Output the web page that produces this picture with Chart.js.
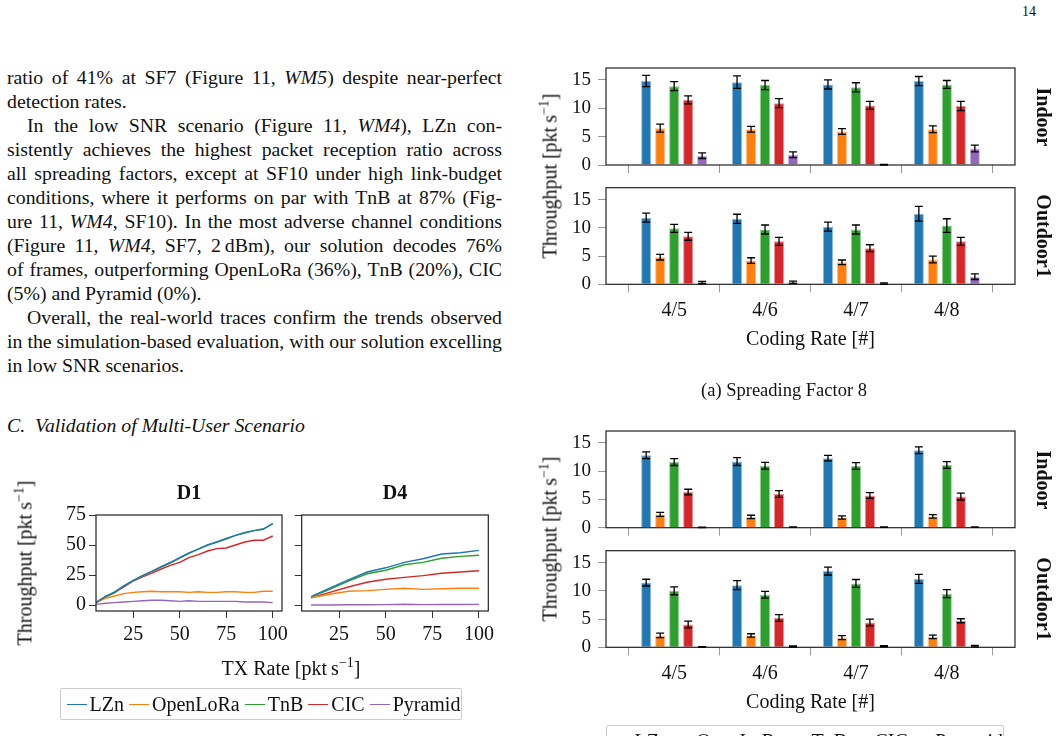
<!DOCTYPE html>
<html>
<head>
<meta charset="utf-8">
<script src="https://cdn.jsdelivr.net/npm/chart.js@4.4.1/dist/chart.umd.min.js"></script>
<style>
  html, body { margin: 0; padding: 0; background: #fff; }
  body { width: 1058px; height: 736px; overflow: hidden; position: relative;
         font-family: "Liberation Serif", "Times New Roman", serif; color: #111; }
  canvas { position: absolute; }
  .abs { position: absolute; white-space: nowrap; }
  .ctr { transform: translate(-50%, -50%); }
  .body { position: absolute; left: 7px; width: 495px; font-size: 19.8px; line-height: 24px; }
  .body div { white-space: nowrap; }
  .ind { padding-left: 20px; }
  .rot { position: absolute; white-space: nowrap; font-size: 20px; transform: translate(-50%, -50%) rotate(-90deg); }
  .rotr { position: absolute; white-space: nowrap; font-size: 20px; font-weight: bold; transform: translate(-50%, -50%) rotate(90deg); }
  sup { font-size: 70%; line-height: 0; }
  .legend { position: absolute; border: 1px solid #ccc; border-radius: 2px; display: flex; align-items: center;
            justify-content: center; font-size: 20px; box-sizing: border-box; }
  .legend span.ln { display: inline-block; width: 20px; height: 0; border-top: 1.5px solid; margin: 0 3px 0 5px; vertical-align: middle; }
</style>
</head>
<body>

<div class="abs" style="left:1022px;top:4px;font-size:14px;">14</div>

<div class="body" style="top:65px;">
  <div class="j">ratio of 41% at SF7 (Figure 11, <i>WM5</i>) despite near-perfect</div>
  <div>detection rates.</div>
  <div class="j ind">In the low SNR scenario (Figure 11, <i>WM4</i>), LZn con-</div>
  <div class="j">sistently achieves the highest packet reception ratio across</div>
  <div class="j">all spreading factors, except at SF10 under high link-budget</div>
  <div class="j">conditions, where it performs on par with TnB at 87% (Fig-</div>
  <div class="j">ure 11, <i>WM4</i>, SF10). In the most adverse channel conditions</div>
  <div class="j">(Figure 11, <i>WM4</i>, SF7, 2&#8201;dBm), our solution decodes 76%</div>
  <div class="j">of frames, outperforming OpenLoRa (36%), TnB (20%), CIC</div>
  <div>(5%) and Pyramid (0%).</div>
  <div class="j ind">Overall, the real-world traces confirm the trends observed</div>
  <div class="j">in the simulation-based evaluation, with our solution excelling</div>
  <div>in low SNR scenarios.</div>
</div>
<div class="body" style="top:413px;"><div><i>C.&nbsp; Validation of Multi-User Scenario</i></div></div>

<!-- multi-user line charts -->
<canvas id="d1" width="290" height="200" style="left:0px;top:470px;"></canvas>
<canvas id="d4" width="210" height="200" style="left:290px;top:470px;"></canvas>
<div class="abs ctr" style="left:189px;top:492px;font-size:20px;font-weight:bold;">D1</div>
<div class="abs ctr" style="left:395px;top:492px;font-size:20px;font-weight:bold;">D4</div>
<div class="rot" style="left:25px;top:563px;">Throughput [pkt&#8201;s<sup>&minus;1</sup>]</div>
<div class="abs ctr" style="left:291px;top:668px;font-size:20px;">TX Rate [pkt&#8201;s<sup>&minus;1</sup>]</div>
<div class="legend" id="legL" style="left:60px;top:688px;width:402px;height:32px;"></div>

<!-- figure (a) SF8 -->
<canvas id="aIn" width="528" height="120" style="left:530px;top:60px;"></canvas>
<canvas id="aOut" width="528" height="200" style="left:530px;top:180px;"></canvas>
<div class="rot" style="left:550px;top:176px;">Throughput [pkt&#8201;s<sup>&minus;1</sup>]</div>
<div class="rotr" style="left:1043px;top:117px;">Indoor</div>
<div class="rotr" style="left:1043px;top:236px;">Outdoor1</div>
<div class="abs ctr" style="left:784px;top:390px;font-size:18.5px;">(a) Spreading Factor 8</div>

<!-- second figure -->
<canvas id="bIn" width="528" height="120" style="left:530px;top:423px;"></canvas>
<canvas id="bOut" width="528" height="200" style="left:530px;top:543px;"></canvas>
<div class="rot" style="left:550px;top:539px;">Throughput [pkt&#8201;s<sup>&minus;1</sup>]</div>
<div class="rotr" style="left:1043px;top:480px;">Indoor</div>
<div class="rotr" style="left:1043px;top:599px;">Outdoor1</div>
<div class="legend" id="legR" style="left:606px;top:725px;width:398px;height:32px;"></div>

<script>
// ---------- data ----------
const methods = ['LZn', 'OpenLoRa', 'TnB', 'CIC', 'Pyramid'];
const codingRates = ['4/5', '4/6', '4/7', '4/8'];
const barTicks = [0, 5, 10, 15];

// SF8, indoor / outdoor1: one row per method (LZn, OpenLoRa, TnB, CIC, Pyramid)
const aIndoorMean = [
  [14.8, 14.6, 14.2, 14.8],
  [6.5, 6.3, 5.9, 6.3],
  [13.9, 14.1, 13.7, 14.2],
  [11.5, 10.9, 10.5, 10.4],
  [1.65, 1.8, 0.05, 2.9]
];
const aIndoorErr = [
  [1.0, 1.1, 0.8, 0.8],
  [0.7, 0.5, 0.5, 0.6],
  [0.8, 0.8, 0.8, 0.7],
  [0.7, 0.8, 0.7, 0.8],
  [0.5, 0.5, 0.05, 0.6]
];
const aOutdoorMean = [
  [11.8, 11.6, 10.2, 12.5],
  [4.8, 4.2, 3.9, 4.4],
  [9.9, 9.7, 9.7, 10.4],
  [8.5, 7.6, 6.4, 7.6],
  [0.3, 0.35, 0.1, 1.35]
];
const aOutdoorErr = [
  [0.8, 0.8, 0.8, 1.3],
  [0.5, 0.5, 0.4, 0.6],
  [0.7, 0.8, 0.8, 1.2],
  [0.7, 0.7, 0.6, 0.7],
  [0.2, 0.2, 0.15, 0.5]
];
const bIndoorMean = [
  [12.8, 11.7, 12.3, 13.7],
  [2.35, 1.9, 1.8, 2.0],
  [11.6, 10.95, 10.9, 11.1],
  [6.3, 5.95, 5.7, 5.5],
  [0.05, 0.1, 0.1, 0.1]
];
const bIndoorErr = [
  [0.6, 0.7, 0.5, 0.6],
  [0.35, 0.3, 0.3, 0.3],
  [0.6, 0.6, 0.6, 0.6],
  [0.5, 0.6, 0.5, 0.6],
  [0.05, 0.05, 0.05, 0.05]
];
const bOutdoorMean = [
  [11.45, 11.0, 13.5, 12.1],
  [2.1, 2.1, 1.7, 1.85],
  [10.0, 9.3, 11.3, 9.5],
  [4.05, 5.2, 4.4, 4.7],
  [0.05, 0.15, 0.2, 0.2]
];
const bOutdoorErr = [
  [0.6, 0.8, 0.7, 0.8],
  [0.4, 0.3, 0.35, 0.3],
  [0.7, 0.6, 0.7, 0.7],
  [0.6, 0.6, 0.6, 0.35],
  [0.05, 0.1, 0.1, 0.15]
];

// multi-user throughput vs TX rate
const txRateD1 = [5, 10, 15, 20, 25, 30, 35, 40, 45, 50, 55, 60, 65, 70, 75, 80, 85, 90, 95, 100];
const d1Series = [
  [2, 7, 11, 16, 20.5, 24.5, 28, 32, 35.5, 39.5, 43.5, 46.5, 50, 52.5, 55.5, 58, 60, 62, 63.5, 67.5],
  [2, 5.5, 7.5, 9.5, 10.5, 11, 11.5, 11, 11, 11, 10.5, 11, 10.5, 10.5, 11, 11, 10.5, 10.5, 11.5, 11.5],
  [2, 6.5, 10, 16, 20, 24.5, 28, 31.5, 35, 39, 43, 46.5, 50, 52.5, 55, 58, 60.5, 62, 63, 68],
  [2, 7, 10.5, 15, 20, 23.5, 26.5, 30, 33, 35.5, 39.5, 42, 45, 47, 47.5, 50, 52.5, 54, 54, 57.5],
  [0.5, 1.5, 2, 2.5, 3, 3.5, 4, 4, 3.5, 3, 3.5, 3, 3, 3, 3, 3, 2.5, 2.5, 2.5, 2]
];
const txRateD4 = [10, 20, 30, 40, 50, 60, 70, 80, 90, 100];
const d4Series = [
  [7, 14, 21, 27.5, 31, 35.5, 38.5, 42.5, 43.5, 45.5],
  [6, 9, 11.5, 12, 13, 14, 13, 13.5, 14, 14],
  [6.5, 13, 20, 26, 29, 33.5, 35.5, 39, 40.5, 41.5],
  [6, 10.5, 15, 19, 21.5, 23, 24.5, 26.5, 27.5, 28.5],
  [0, 0, 0.2, 0.2, 0.3, 0.6, 0.3, 0.4, 0.4, 0.5]
];
const lineXTicks = [25, 50, 75, 100];
const lineYTicks = [0, 25, 50, 75];

// ---------- styles ----------
const colors = ['#1f77b4', '#ff7f0e', '#2ca02c', '#d62728', '#9467bd'];
const edges = ['#8fbbd9', '#ffbf86', '#95cf95', '#ea9393', '#c9b3de'];
const FONT = '"Liberation Serif", "Times New Roman", serif';
Chart.defaults.font.family = FONT;
Chart.defaults.color = '#111';

// justify body lines
document.querySelectorAll('.body .j').forEach(d => {
  const span = document.createElement('span');
  while (d.firstChild) span.appendChild(d.firstChild);
  d.appendChild(span);
  const avail = d.clientWidth - (d.classList.contains('ind') ? 20 : 0);
  const w = span.getBoundingClientRect().width;
  const gaps = (span.textContent.match(/ /g) || []).length;
  if (gaps) span.style.wordSpacing = ((avail - w) / gaps) + 'px';
});

// legends
['legL', 'legR'].forEach(id => {
  document.getElementById(id).innerHTML = methods.map((m, i) =>
    `<span class="ln" style="border-color:${colors[i]}"></span><span>${m}</span>`).join('');
});

// ---------- plugins ----------
const frame = {
  id: 'frame',
  afterDatasetsDraw(chart) {
    const { ctx, chartArea: a } = chart;
    ctx.save();
    ctx.strokeStyle = '#222';
    ctx.lineWidth = 1.2;
    ctx.strokeRect(a.left, a.top, a.right - a.left, a.bottom - a.top);
    ctx.restore();
  }
};

const errorBars = {
  id: 'errorBars',
  afterDatasetsDraw(chart) {
    const ctx = chart.ctx, y = chart.scales.y;
    ctx.save();
    ctx.strokeStyle = '#000';
    ctx.lineWidth = 1.3;
    chart.data.datasets.forEach((ds, i) => {
      chart.getDatasetMeta(i).data.forEach((bar, j) => {
        const v = ds.data[j].y, e = ds.errors[j];
        const top = y.getPixelForValue(v + e);
        const bot = y.getPixelForValue(Math.max(v - e, 0));
        ctx.beginPath();
        ctx.moveTo(bar.x, top); ctx.lineTo(bar.x, bot);
        ctx.moveTo(bar.x - 4, top); ctx.lineTo(bar.x + 4, top);
        ctx.moveTo(bar.x - 4, bot); ctx.lineTo(bar.x + 4, bot);
        ctx.stroke();
      });
    });
    ctx.restore();
  }
};

// fixed axis sizes, no label overhang padding
const fixX = h => s => { s.height = h; s.paddingLeft = 0; s.paddingRight = 0; };
const fixY = w => s => { s.width = w; s.paddingTop = 0; s.paddingBottom = 0; };

// ---------- bar panels ----------
function barPanel(id, box, means, errs, showLabels) {
  const canvas = document.getElementById(id);
  const H = canvas.height, W = canvas.width;
  const datasets = methods.map((m, i) => ({
    label: m,
    data: means[i].map((v, j) => ({ x: j, y: v })),
    errors: errs[i],
    backgroundColor: colors[i],
    borderColor: edges[i],
    borderWidth: 1,
    categoryPercentage: 0.77,
    barPercentage: 0.72
  }));
  new Chart(canvas, {
    type: 'bar',
    data: { datasets },
    options: {
      responsive: false,
      animation: false,
      layout: { padding: { left: 0, right: W - box.right, top: box.top, bottom: 0 } },
      plugins: { legend: { display: false }, tooltip: { enabled: false } },
      scales: {
        x: {
          type: 'linear', min: -0.75, max: 3.75, offset: false,
          grid: { drawOnChartArea: false, tickLength: 8, color: '#999' },
          border: { display: false },
          afterBuildTicks: s => { s.ticks = codingRates.map((c, i) => ({ value: i })); },
          ticks: { font: { size: 20 }, padding: 6, callback: v => showLabels ? codingRates[v] : '' },
          title: { display: showLabels, text: 'Coding Rate [#]', font: { size: 20 }, padding: { top: 0, bottom: 28 } },
          afterFit: fixX(H - box.bottom)
        },
        y: {
          min: 0, max: 17.1,
          grid: { drawOnChartArea: false, tickLength: 8, color: '#999' },
          border: { display: false },
          afterBuildTicks: s => { s.ticks = barTicks.map(v => ({ value: v })); },
          ticks: { font: { size: 19 }, padding: 7 },
          afterFit: fixY(box.left)
        }
      }
    },
    plugins: [frame, errorBars]
  });
}

barPanel('aIn', { left: 76, right: 485, top: 8, bottom: 105 }, aIndoorMean, aIndoorErr, false);
barPanel('aOut', { left: 76, right: 485, top: 7.7, bottom: 104.3 }, aOutdoorMean, aOutdoorErr, true);
barPanel('bIn', { left: 76, right: 485, top: 8, bottom: 104.7 }, bIndoorMean, bIndoorErr, false);
barPanel('bOut', { left: 76, right: 485, top: 7.7, bottom: 104.3 }, bOutdoorMean, bOutdoorErr, true);

// ---------- line charts ----------
function lineChart(id, box, xs, series, showYLabels) {
  const canvas = document.getElementById(id);
  const H = canvas.height, W = canvas.width;
  new Chart(canvas, {
    type: 'line',
    data: {
      datasets: methods.map((m, i) => ({
        label: m,
        data: xs.map((x, j) => ({ x, y: series[i][j] })),
        borderColor: colors[i],
        borderWidth: 1.4,
        pointRadius: 0,
        fill: false,
        tension: 0
      }))
    },
    options: {
      responsive: false,
      animation: false,
      layout: { padding: { left: 0, right: W - box.right, top: box.top, bottom: 0 } },
      plugins: { legend: { display: false }, tooltip: { enabled: false } },
      scales: {
        x: {
          type: 'linear', min: 5, max: 105,
          grid: { drawOnChartArea: false, tickLength: 7, color: '#333' },
          border: { display: false },
          afterBuildTicks: s => { s.ticks = lineXTicks.map(v => ({ value: v })); },
          ticks: { font: { size: 20 }, padding: 5 },
          afterFit: fixX(H - box.bottom)
        },
        y: {
          min: -5, max: 75,
          grid: { drawOnChartArea: false, tickLength: 7, color: '#333' },
          border: { display: false },
          afterBuildTicks: s => { s.ticks = lineYTicks.map(v => ({ value: v })); },
          ticks: { font: { size: 20 }, padding: 3, callback: v => showYLabels ? String(v) : '' },
          afterFit: fixY(box.left)
        }
      }
    },
    plugins: [frame]
  });
}

lineChart('d1', { left: 96, right: 282, top: 45, bottom: 141 }, txRateD1, d1Series, true);
lineChart('d4', { left: 11.7, right: 198.3, top: 45, bottom: 141 }, txRateD4, d4Series, false);
</script>
</body>
</html>
